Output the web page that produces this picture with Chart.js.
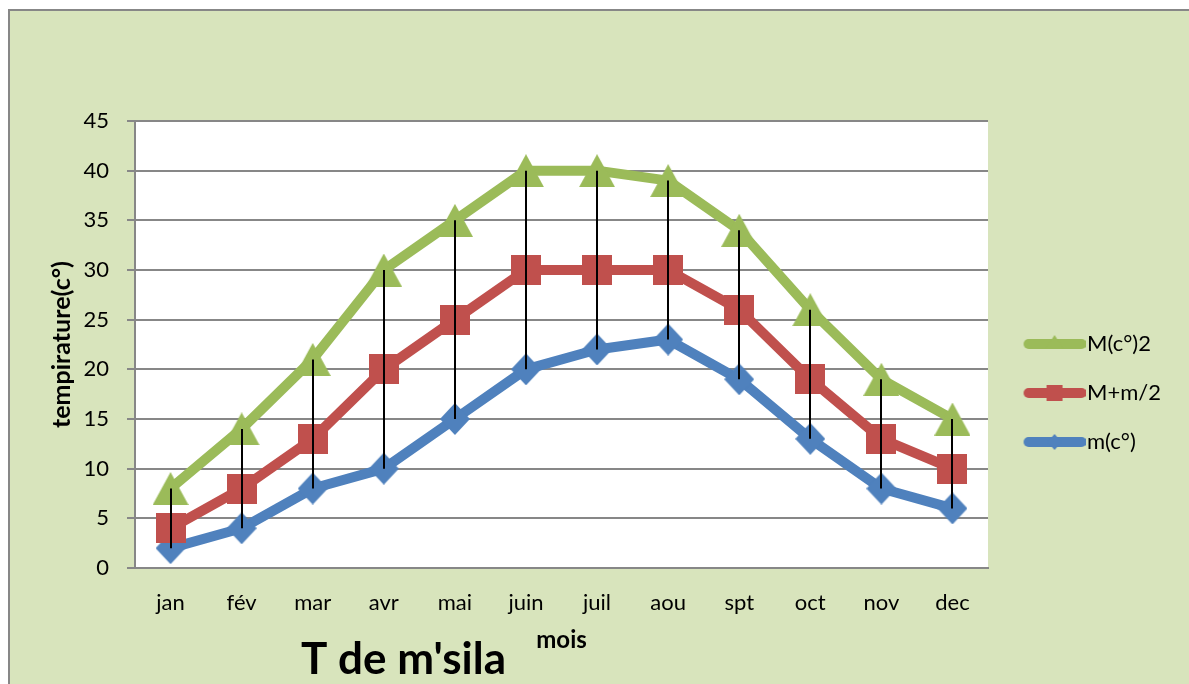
<!DOCTYPE html>
<html>
<head>
<meta charset="utf-8">
<script src="https://cdn.jsdelivr.net/npm/chart.js@4/dist/chart.umd.min.js"></script>
<style>
  html, body { margin: 0; padding: 0; background: #fff; }
  canvas { display: block; }
</style>
</head>
<body>
<canvas id="tempChart" width="1189" height="684"></canvas>
<script>
    // données : températures de m'sila
    const months = ['jan', 'fév', 'mar', 'avr', 'mai', 'juin', 'juil', 'aou', 'spt', 'oct', 'nov', 'dec'];
    const maxVals = [8, 14, 21, 30, 35, 40, 40, 39, 34, 26, 19, 15];   // M(c°)2
    const midVals = [4, 8, 13, 20, 25, 30, 30, 30, 26, 19, 13, 10];    // M+m/2
    const minVals = [2, 4, 8, 10, 15, 20, 22, 23, 19, 13, 8, 6];       // m(c°)
    const yTicks = [0, 5, 10, 15, 20, 25, 30, 35, 40, 45];

    const GREEN = '#9bbb59', RED = '#c0504d', BLUE = '#4f81bd';
    const GRID = '#878787';
    const FONT = 'Lato, "Open Sans", sans-serif';

    // marqueurs dessinés dans un petit canvas (centrés sur la boîte)
    function makeMarker(kind, color, w, h) {
        const c = document.createElement('canvas');
        c.width = w; c.height = h;
        const g = c.getContext('2d');
        g.fillStyle = color;
        g.beginPath();
        if (kind === 'tri') {
            g.moveTo(w / 2, 0); g.lineTo(w, h); g.lineTo(0, h);
        } else if (kind === 'rect') {
            g.rect(0, 0, w, h);
        } else {
            g.moveTo(w / 2, 0); g.lineTo(w, h / 2); g.lineTo(w / 2, h); g.lineTo(0, h / 2);
        }
        g.closePath();
        g.fill();
        return c;
    }

    // symbole de légende : trait épais + petit marqueur
    function makeLegendIcon(kind, color) {
        const W = 80, H = 20;
        const c = document.createElement('canvas');
        c.width = W; c.height = H;
        const g = c.getContext('2d');
        g.strokeStyle = color;
        g.lineWidth = 10;
        g.lineCap = 'round';
        g.beginPath(); g.moveTo(23, H / 2); g.lineTo(76, H / 2); g.stroke();
        const m = kind === 'tri' ? makeMarker('tri', color, 18, 14)
                : kind === 'rect' ? makeMarker('rect', color, 16, 16)
                : makeMarker('dia', color, 14, 16);
        g.drawImage(m, 49 - m.width / 2, H / 2 - m.height / 2 - (kind === 'tri' ? 2 : 0));
        return c;
    }

    const markers = [
        makeMarker('tri', GREEN, 36, 33),
        makeMarker('rect', RED, 30, 30),
        makeMarker('dia', BLUE, 30, 32)
    ];
    const legendIcons = [
        makeLegendIcon('tri', GREEN),
        makeLegendIcon('rect', RED),
        makeLegendIcon('dia', BLUE)
    ];

    // fond vert + zone de tracé blanche
    const background = {
        id: 'background',
        beforeDraw(chart) {
            const { ctx, width, height, chartArea: a } = chart;
            ctx.save();
            ctx.fillStyle = '#fff';
            ctx.fillRect(0, 0, width, height);
            ctx.fillStyle = '#d8e4bc';
            ctx.fillRect(8, 9, width, height);
            ctx.strokeStyle = GRID;
            ctx.lineWidth = 2;
            ctx.beginPath();
            ctx.moveTo(9, height); ctx.lineTo(9, 10); ctx.lineTo(width, 10);
            ctx.stroke();
            ctx.fillStyle = '#fff';
            ctx.fillRect(a.left, a.top, a.width, a.height);
            ctx.restore();
        }
    };

    // lignes haut-bas (du max au min de chaque mois)
    const dropLines = {
        id: 'dropLines',
        afterDatasetsDraw(chart) {
            const { ctx } = chart;
            const xs = chart.scales.x, ys = chart.scales.y;
            ctx.save();
            ctx.strokeStyle = '#000';
            ctx.lineWidth = 2;
            months.forEach((m, i) => {
                const vals = [maxVals[i], midVals[i], minVals[i]];
                const x = Math.round(xs.getPixelForValue(i));
                ctx.beginPath();
                ctx.moveTo(x, ys.getPixelForValue(Math.max(...vals)));
                ctx.lineTo(x, ys.getPixelForValue(Math.min(...vals)));
                ctx.stroke();
            });
            ctx.restore();
        }
    };

    // zone de texte "T de m'sila"
    const textBox = {
        id: 'textBox',
        afterDraw(chart) {
            const { ctx } = chart;
            ctx.save();
            ctx.fillStyle = '#000';
            ctx.font = 'bold 44px ' + FONT;
            ctx.textBaseline = 'alphabetic';
            ctx.fillText("T de m'sila", 301, 674);
            ctx.restore();
        }
    };

    const series = [
        { label: 'M(c°)2', data: maxVals, color: GREEN },
        { label: 'M+m/2', data: midVals, color: RED },
        { label: 'm(c°)', data: minVals, color: BLUE }
    ];

    const tempChart = new Chart(document.getElementById('tempChart').getContext('2d'), {
        type: 'line',
        data: {
            labels: months,
            datasets: series.map((s, i) => ({
                label: s.label,
                data: s.data,
                borderColor: s.color,
                backgroundColor: s.color,
                borderWidth: 10,
                borderJoinStyle: 'round',
                borderCapStyle: 'round',
                pointStyle: markers[i],
                pointRadius: 10,
                tension: 0,
                fill: false
            }))
        },
        options: {
            responsive: false,
            animation: false,
            devicePixelRatio: 1,
            layout: { padding: { left: 47, top: 121, right: 18, bottom: 19 } },
            plugins: {
                tooltip: { enabled: false },
                legend: {
                    position: 'right',
                    labels: {
                        usePointStyle: true,
                        pointStyleWidth: 61,
                        padding: 27,
                        color: '#000',
                        font: { family: FONT, size: 22 },
                        generateLabels(chart) {
                            const items = Chart.defaults.plugins.legend.labels.generateLabels(chart);
                            items.forEach((it, i) => { it.pointStyle = legendIcons[i]; });
                            return items;
                        }
                    }
                }
            },
            scales: {
                x: {
                    offset: true,
                    grid: { display: false },
                    border: { display: true, color: GRID, width: 2 },
                    ticks: { color: '#000', font: { family: FONT, size: 22 }, padding: 14, maxRotation: 0, autoSkip: false },
                    title: {
                        display: true, text: 'mois', color: '#000',
                        font: { family: FONT, size: 24, weight: 'bold' },
                        padding: { top: 0, bottom: 10 }
                    },
                    afterFit(scale) { scale.height = 97; }
                },
                y: {
                    min: 0,
                    max: 45,
                    afterBuildTicks(scale) { scale.ticks = yTicks.map(v => ({ value: v })); },
                    grid: { color: GRID, lineWidth: 2, tickLength: 8 },
                    border: { color: GRID, width: 2 },
                    ticks: { color: '#000', font: { family: FONT, size: 22 }, padding: 18 },
                    title: {
                        display: true, text: 'tempirature(c°)', color: '#000',
                        font: { family: FONT, size: 25, weight: 'bold' },
                        padding: { top: 0, bottom: 0 }
                    },
                    afterFit(scale) { scale.width = 88; }
                }
            }
        },
        plugins: [background, dropLines, textBox]
    });
</script>
</body>
</html>
